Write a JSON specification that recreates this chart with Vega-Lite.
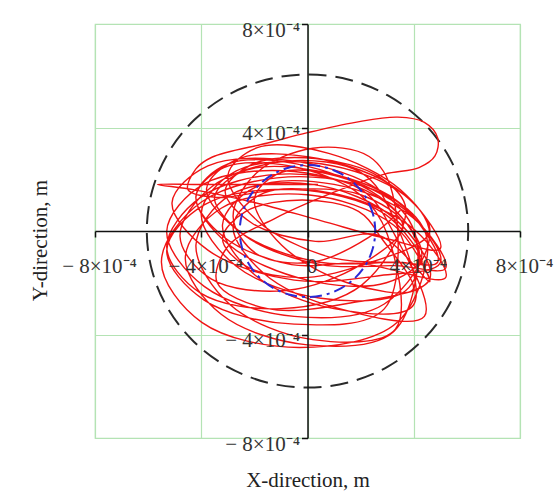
{
  "$schema": "https://vega.github.io/schema/vega-lite/v6.json",
  "width": 425,
  "height": 414,
  "autosize": {"type": "none"},
  "padding": {"left": 95, "top": 24, "right": 38, "bottom": 55},
  "background": "white",
  "config": {"view": {"stroke": "#b4e3b4", "strokeWidth": 1.2}, "font": "Liberation Serif"},
  "datasets": {
    "outer": [{"x":6.05e-4,"y":0},{"x":5.844e-4,"y":1.566e-4},{"x":5.239e-4,"y":3.025e-4},{"x":4.278e-4,"y":4.278e-4},{"x":3.025e-4,"y":5.239e-4},{"x":1.566e-4,"y":5.844e-4},{"x":0,"y":6.05e-4},{"x":-1.566e-4,"y":5.844e-4},{"x":-3.025e-4,"y":5.239e-4},{"x":-4.278e-4,"y":4.278e-4},{"x":-5.239e-4,"y":3.025e-4},{"x":-5.844e-4,"y":1.566e-4},{"x":-6.05e-4,"y":0},{"x":-5.844e-4,"y":-1.566e-4},{"x":-5.239e-4,"y":-3.025e-4},{"x":-4.278e-4,"y":-4.278e-4},{"x":-3.025e-4,"y":-5.239e-4},{"x":-1.566e-4,"y":-5.844e-4},{"x":0,"y":-6.05e-4},{"x":1.566e-4,"y":-5.844e-4},{"x":3.025e-4,"y":-5.239e-4},{"x":4.278e-4,"y":-4.278e-4},{"x":5.239e-4,"y":-3.025e-4},{"x":5.844e-4,"y":-1.566e-4}],
    "inner": [{"x":2.55e-4,"y":0},{"x":2.463e-4,"y":0.66e-4},{"x":2.208e-4,"y":1.275e-4},{"x":1.803e-4,"y":1.803e-4},{"x":1.275e-4,"y":2.208e-4},{"x":0.66e-4,"y":2.463e-4},{"x":0,"y":2.55e-4},{"x":-0.66e-4,"y":2.463e-4},{"x":-1.275e-4,"y":2.208e-4},{"x":-1.803e-4,"y":1.803e-4},{"x":-2.208e-4,"y":1.275e-4},{"x":-2.463e-4,"y":0.66e-4},{"x":-2.55e-4,"y":0},{"x":-2.463e-4,"y":-0.66e-4},{"x":-2.208e-4,"y":-1.275e-4},{"x":-1.803e-4,"y":-1.803e-4},{"x":-1.275e-4,"y":-2.208e-4},{"x":-0.66e-4,"y":-2.463e-4},{"x":0,"y":-2.55e-4},{"x":0.66e-4,"y":-2.463e-4},{"x":1.275e-4,"y":-2.208e-4},{"x":1.803e-4,"y":-1.803e-4},{"x":2.208e-4,"y":-1.275e-4},{"x":2.463e-4,"y":-0.66e-4}],
    "traj": [
      {"x":0.4e-4,"y":1.8e-4},{"x":-2.0e-4,"y":1.8e-4},{"x":-4.0e-4,"y":1.8e-4},{"x":-5.65e-4,"y":1.8e-4},{"x":-4.3e-4,"y":1.6e-4},{"x":-2.0e-4,"y":1.1e-4},{"x":0.5e-4,"y":0.4e-4},{"x":3.0e-4,"y":-0.3e-4},
      {"x":5.0e-4,"y":-0.68e-4},{"x":3.68e-4,"y":1.36e-4},{"x":0.5e-4,"y":2.6e-4},{"x":-2.68e-4,"y":2.32e-4},{"x":-4.0e-4,"y":0.68e-4},{"x":-2.68e-4,"y":-1.36e-4},{"x":0.5e-4,"y":-2.6e-4},{"x":3.68e-4,"y":-2.32e-4},
      {"x":4.2e-4,"y":-0.75e-4},{"x":2.97e-4,"y":1.12e-4},{"x":0,"y":2.5e-4},{"x":-2.97e-4,"y":2.6e-4},{"x":-4.2e-4,"y":1.35e-4},{"x":-2.97e-4,"y":-0.52e-4},{"x":0,"y":-1.9e-4},{"x":2.97e-4,"y":-2.0e-4},
      {"x":4.3e-4,"y":-0.98e-4},{"x":2.89e-4,"y":1.14e-4},{"x":-0.5e-4,"y":2.3e-4},{"x":-3.89e-4,"y":1.82e-4},{"x":-5.3e-4,"y":-0.02e-4},{"x":-3.89e-4,"y":-2.14e-4},{"x":-0.5e-4,"y":-3.3e-4},{"x":2.89e-4,"y":-2.82e-4},
      {"x":4.6e-4,"y":-0.14e-4},{"x":3.49e-4,"y":1.6e-4},{"x":0.8e-4,"y":3.0e-4},{"x":-1.89e-4,"y":3.22e-4},{"x":-3.0e-4,"y":2.14e-4},{"x":-1.89e-4,"y":0.4e-4},{"x":0.8e-4,"y":-1.0e-4},{"x":3.49e-4,"y":-1.22e-4},
      {"x":4.9e-4,"y":-1.2e-4},{"x":3.38e-4,"y":1.13e-4},{"x":-0.3e-4,"y":2.1e-4},{"x":-3.98e-4,"y":1.13e-4},{"x":-5.5e-4,"y":-1.2e-4},{"x":-3.98e-4,"y":-3.53e-4},{"x":-0.3e-4,"y":-4.5e-4},{"x":3.38e-4,"y":-3.53e-4},
      {"x":4.5e-4,"y":-0.3e-4},{"x":3.33e-4,"y":1.2e-4},{"x":0.5e-4,"y":2.3e-4},{"x":-2.33e-4,"y":2.34e-4},{"x":-3.5e-4,"y":1.3e-4},{"x":-2.33e-4,"y":-0.2e-4},{"x":0.5e-4,"y":-1.3e-4},{"x":3.33e-4,"y":-1.34e-4},
      {"x":5.2e-4,"y":-1.44e-4},{"x":3.97e-4,"y":0.51e-4},{"x":1.0e-4,"y":1.8e-4},{"x":-1.97e-4,"y":1.69e-4},{"x":-3.2e-4,"y":0.24e-4},{"x":-1.97e-4,"y":-1.71e-4},{"x":1.0e-4,"y":-3.0e-4},{"x":3.97e-4,"y":-2.89e-4},
      {"x":3.2e-4,"y":0.6e-4},{"x":2.03e-4,"y":2.25e-4},{"x":-0.8e-4,"y":2.7e-4},{"x":-3.63e-4,"y":1.69e-4},{"x":-4.8e-4,"y":-0.2e-4},{"x":-3.63e-4,"y":-1.85e-4},{"x":-0.8e-4,"y":-2.3e-4},{"x":2.03e-4,"y":-1.29e-4},
      {"x":3.6e-4,"y":0.2e-4},{"x":2.0e-4,"y":1.4e-4},{"x":-1.0e-4,"y":1.6e-4},{"x":-3.4e-4,"y":1.3e-4},{"x":-4.5e-4,"y":1.6e-4},{"x":-4.2e-4,"y":2.4e-4},{"x":-3.6e-4,"y":2.85e-4},{"x":-1.5e-4,"y":3.4e-4},{"x":0,"y":3.8e-4},{"x":1.8e-4,"y":4.2e-4},{"x":3.4e-4,"y":4.4e-4},{"x":4.4e-4,"y":4.2e-4},{"x":4.9e-4,"y":3.6e-4},{"x":4.8e-4,"y":2.9e-4},{"x":4.2e-4,"y":2.45e-4},{"x":2.9e-4,"y":2.2e-4},{"x":1.0e-4,"y":1.5e-4},{"x":-1.2e-4,"y":0.5e-4},{"x":-3.0e-4,"y":-0.6e-4},{"x":-3.4e-4,"y":-2.0e-4},{"x":-1.5e-4,"y":-3.0e-4},{"x":1.5e-4,"y":-2.8e-4},
      {"x":4.6e-4,"y":-1.86e-4},{"x":3.31e-4,"y":0.45e-4},{"x":0.2e-4,"y":1.8e-4},{"x":-2.91e-4,"y":1.39e-4},{"x":-4.2e-4,"y":-0.54e-4},{"x":-2.91e-4,"y":-2.85e-4},{"x":0.2e-4,"y":-4.2e-4},{"x":3.31e-4,"y":-3.79e-4},
      {"x":3.0e-4,"y":-0.12e-4},{"x":1.95e-4,"y":1.43e-4},{"x":-0.6e-4,"y":2.5e-4},{"x":-3.15e-4,"y":2.45e-4},{"x":-4.2e-4,"y":1.32e-4},{"x":-3.15e-4,"y":-0.23e-4},{"x":-0.6e-4,"y":-1.3e-4},{"x":1.95e-4,"y":-1.25e-4},
      {"x":5.2e-4,"y":-1.8e-4},{"x":4.03e-4,"y":0.05e-4},{"x":1.2e-4,"y":1.4e-4},{"x":-1.63e-4,"y":1.47e-4},{"x":-2.8e-4,"y":0.2e-4},{"x":-1.63e-4,"y":-1.65e-4},{"x":1.2e-4,"y":-3.0e-4},{"x":4.4e-4,"y":-3.3e-4},
      {"x":3.3e-4,"y":-0.18e-4},{"x":2.04e-4,"y":1.59e-4},{"x":-1.0e-4,"y":2.2e-4},{"x":-4.04e-4,"y":1.29e-4},{"x":-5.3e-4,"y":-0.62e-4},{"x":-4.04e-4,"y":-2.39e-4},{"x":-1.0e-4,"y":-3.0e-4},{"x":2.04e-4,"y":-2.09e-4},
      {"x":3.7e-4,"y":0.86e-4},{"x":2.7e-4,"y":2.09e-4},{"x":0.3e-4,"y":2.8e-4},{"x":-2.1e-4,"y":2.57e-4},{"x":-3.1e-4,"y":1.54e-4},{"x":-2.1e-4,"y":0.31e-4},{"x":0.3e-4,"y":-0.4e-4},{"x":2.7e-4,"y":-0.17e-4},
      {"x":4.6e-4,"y":-1.96e-4},{"x":3.25e-4,"y":0.22e-4},{"x":0,"y":1.4e-4},{"x":-3.25e-4,"y":0.88e-4},{"x":-4.6e-4,"y":-1.04e-4},{"x":-3.25e-4,"y":-3.22e-4},{"x":0,"y":-4.4e-4},{"x":3.25e-4,"y":-3.88e-4},
      {"x":4.1e-4,"y":-0.29e-4},{"x":2.75e-4,"y":1.54e-4},{"x":-0.5e-4,"y":2.7e-4},{"x":-3.75e-4,"y":2.52e-4},{"x":-5.1e-4,"y":1.09e-4},{"x":-3.75e-4,"y":-0.74e-4},{"x":-0.5e-4,"y":-1.9e-4},{"x":2.75e-4,"y":-1.72e-4},
      {"x":5.0e-4,"y":-1.23e-4},{"x":3.97e-4,"y":0.55e-4},{"x":1.5e-4,"y":2.0e-4},{"x":-0.97e-4,"y":2.27e-4},{"x":-2.0e-4,"y":1.23e-4},{"x":-0.97e-4,"y":-0.55e-4},{"x":1.5e-4,"y":-2.0e-4},{"x":3.97e-4,"y":-2.27e-4},
      {"x":2.8e-4,"y":-0.3e-4},{"x":1.92e-4,"y":0.76e-4},{"x":-0.2e-4,"y":1.2e-4},{"x":-2.32e-4,"y":0.76e-4},{"x":-3.2e-4,"y":-0.3e-4},{"x":-2.32e-4,"y":-1.36e-4},{"x":-0.2e-4,"y":-1.8e-4},{"x":1.92e-4,"y":-1.36e-4},
      {"x":4.6e-4,"y":-0.04e-4},{"x":3.37e-4,"y":1.62e-4},{"x":0.4e-4,"y":2.8e-4},{"x":-2.57e-4,"y":2.8e-4},{"x":-3.8e-4,"y":1.64e-4},{"x":-2.57e-4,"y":-0.02e-4},{"x":0.4e-4,"y":-1.2e-4},{"x":3.37e-4,"y":-1.2e-4},
      {"x":4.3e-4,"y":-1.24e-4},{"x":2.89e-4,"y":0.67e-4},{"x":-0.5e-4,"y":1.6e-4},{"x":-3.89e-4,"y":1.01e-4},{"x":-5.3e-4,"y":-0.76e-4},{"x":-3.89e-4,"y":-2.67e-4},{"x":-0.5e-4,"y":-3.6e-4},{"x":2.89e-4,"y":-3.01e-4},
      {"x":3.2e-4,"y":1.45e-4},{"x":2.32e-4,"y":2.88e-4},{"x":0.2e-4,"y":3.2e-4},{"x":-1.92e-4,"y":2.24e-4},{"x":-2.8e-4,"y":0.55e-4},{"x":-1.92e-4,"y":-0.88e-4},{"x":0.2e-4,"y":-1.2e-4},{"x":2.32e-4,"y":-0.24e-4},
      {"x":3.5e-4,"y":0.8e-4}
    ]
  },
  "layer": [
    {
      "data": {"name": "outer"},
      "mark": {"type": "line", "interpolate": "cardinal-closed", "color": "#2a2a2a", "strokeWidth": 2, "strokeDash": [18, 9]},
      "encoding": {
        "x": {"field": "x", "type": "quantitative",
          "scale": {"domain": [-0.0008, 0.0008], "nice": false, "zero": false},
          "axis": {"orient": "bottom", "title": "X-direction, m", "values": [-0.0008, -0.0004, 0, 0.0004, 0.0008],
            "grid": true, "gridColor": "#b4e3b4", "gridWidth": 1.2, "labels": false, "ticks": false, "domain": false,
            "titlePadding": 31, "titleFont": "Liberation Serif", "titleFontSize": 21, "titleFontWeight": "normal", "titleColor": "#222222", "zindex": 0}},
        "y": {"field": "y", "type": "quantitative",
          "scale": {"domain": [-0.0008, 0.0008], "nice": false, "zero": false},
          "axis": {"orient": "left", "title": "Y-direction, m", "values": [-0.0008, -0.0004, 0, 0.0004, 0.0008],
            "grid": true, "gridColor": "#b4e3b4", "gridWidth": 1.2, "labels": false, "ticks": false, "domain": false,
            "titlePadding": 45, "titleY": 216, "titleFont": "Liberation Serif", "titleFontSize": 21, "titleFontWeight": "normal", "titleColor": "#222222", "zindex": 0}},
        "order": {"value": null}
      }
    },
    {
      "data": {"name": "traj"},
      "mark": {"type": "line", "interpolate": "catmull-rom", "color": "#f01414", "strokeWidth": 1.4},
      "encoding": {
        "x": {"field": "x", "type": "quantitative",
          "scale": {"domain": [-0.0008, 0.0008], "nice": false, "zero": false},
          "axis": {"orient": "bottom", "offset": -207, "title": null, "values": [-0.0008, -0.0004, 0, 0.0004, 0.0008],
            "grid": false, "domainColor": "#111111", "domainWidth": 1.5, "tickColor": "#111111", "tickWidth": 1.5, "tickSize": 6,
            "labelExpr": "datum.value == 0 ? '0' : (datum.value < 0 ? '− ' : '') + format(abs(datum.value) * 10000, 'd') + '×10⁻⁴'",
            "labelFont": "Liberation Serif", "labelFontSize": 21, "labelColor": "#333333", "labelPadding": 18, "labelOffset": 4,
            "labelFlush": false, "labelOverlap": false, "zindex": 1}},
        "y": {"field": "y", "type": "quantitative",
          "scale": {"domain": [-0.0008, 0.0008], "nice": false, "zero": false},
          "axis": {"orient": "left", "offset": -212.5, "title": null, "values": [-0.0008, -0.0004, 0.0004, 0.0008],
            "grid": false, "domainColor": "#111111", "domainWidth": 1.5, "tickColor": "#111111", "tickWidth": 1.5, "tickSize": 6,
            "labelExpr": "(datum.value < 0 ? '− ' : '') + format(abs(datum.value) * 10000, 'd') + '×10⁻⁴'",
            "labelFont": "Liberation Serif", "labelFontSize": 21, "labelColor": "#333333", "labelPadding": 2, "labelOffset": 6,
            "labelBaseline": "middle", "labelFlush": false, "labelOverlap": false, "zindex": 1}},
        "order": {"value": null}
      }
    },
    {
      "data": {"name": "inner"},
      "mark": {"type": "line", "interpolate": "cardinal-closed", "color": "#2a2ad6", "strokeWidth": 2, "strokeDash": [12, 5, 3, 5]},
      "encoding": {
        "x": {"field": "x", "type": "quantitative", "scale": {"domain": [-0.0008, 0.0008], "nice": false, "zero": false}, "axis": null},
        "y": {"field": "y", "type": "quantitative", "scale": {"domain": [-0.0008, 0.0008], "nice": false, "zero": false}, "axis": null},
        "order": {"value": null}
      }
    }
  ],
  "resolve": {"axis": {"x": "independent", "y": "independent"}}
}
